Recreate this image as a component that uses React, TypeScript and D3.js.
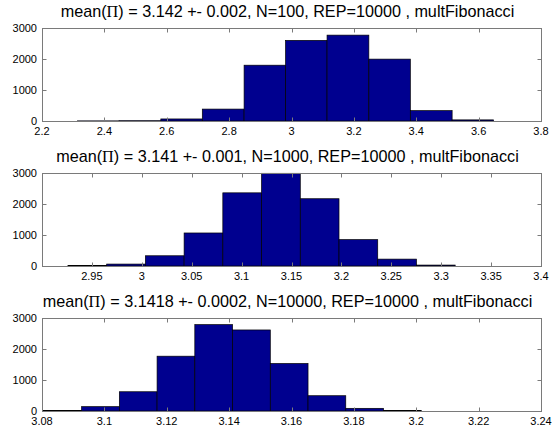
import React from 'react';
import * as d3 from 'd3';

// ---------- data ----------
const titles1 = { mean: '3.142', err: '0.002', n: '100' };
const titles2 = { mean: '3.141', err: '0.001', n: '1000' };
const titles3 = { mean: '3.1418', err: '0.0002', n: '10000' };
const rep = '10000';
const generator = 'multFibonacci';

const edges1 = [2.314, 2.447, 2.581, 2.714, 2.848, 2.981, 3.114, 3.248, 3.381, 3.515, 3.648];
const counts1 = [4, 10, 66, 384, 1800, 2600, 2770, 1996, 334, 36];
const xDomain1 = [2.2, 3.8];
const xTicks1 = [2.2, 2.4, 2.6, 2.8, 3, 3.2, 3.4, 3.6, 3.8];

const edges2 = [2.926, 2.9648, 3.0036, 3.0424, 3.0812, 3.12, 3.1588, 3.1976, 3.2364, 3.2752, 3.314];
const counts2 = [18, 62, 330, 1065, 2360, 2990, 2170, 850, 222, 30];
const xDomain2 = [2.9, 3.4];
const xTicks2 = [2.95, 3, 3.05, 3.1, 3.15, 3.2, 3.25, 3.3, 3.35, 3.4];

const edges3 = [3.0805, 3.0927, 3.1048, 3.1169, 3.129, 3.1411, 3.1532, 3.1653, 3.1774, 3.1895, 3.2016];
const counts3 = [20, 140, 621, 1768, 2786, 2614, 1532, 493, 86, 20];
const xDomain3 = [3.08, 3.24];
const xTicks3 = [3.08, 3.1, 3.12, 3.14, 3.16, 3.18, 3.2, 3.22, 3.24];

const yDomain = [0, 3000];
const yTicks = [0, 1000, 2000, 3000];

// ---------- layout ----------
const W = 560;
const H = 432;
const left = 42;
const right = 541;
const panelTops = [28, 173, 318];
const panelH = 93;
const FONT = '"Liberation Sans", Arial, Helvetica, sans-serif';
const AXIS = '#7a7a7a';
const BAR = '#00008f';
const TICK = 4;

type PanelProps = {
  top: number;
  edges: number[];
  counts: number[];
  xDomain: number[];
  xTicks: number[];
  t: { mean: string; err: string; n: string };
};

function Panel({ top, edges, counts, xDomain, xTicks, t }: PanelProps) {
  const x = d3.scaleLinear().domain(xDomain).range([left, right]);
  const y = d3.scaleLinear().domain(yDomain).range([top + panelH, top]);
  const bottom = top + panelH;
  const bins = counts.map((c, i) => ({ x0: edges[i], x1: edges[i + 1], c }));
  return (
    <g>
      <rect x={left} y={top} width={right - left} height={panelH} fill="#fff" />
      {bins.map((b, i) => (
        <rect
          key={i}
          x={x(b.x0)}
          y={y(b.c)}
          width={x(b.x1) - x(b.x0)}
          height={y(0) - y(b.c)}
          fill={BAR}
          stroke="#000"
          strokeWidth={0.7}
        />
      ))}
      {/* box */}
      <rect x={left + 0.5} y={top + 0.5} width={right - left} height={panelH} fill="none" stroke={AXIS} strokeWidth={1} />
      {/* x ticks */}
      {xTicks.map((v, i) => {
        const px = Math.round(x(v)) + 0.5;
        return (
          <g key={'x' + i}>
            <line x1={px} x2={px} y1={bottom + 0.5} y2={bottom + 0.5 - TICK} stroke={AXIS} />
            <line x1={px} x2={px} y1={top + 0.5} y2={top + 0.5 + TICK} stroke={AXIS} />
            <text x={x(v)} y={bottom + 14} textAnchor="middle" fontSize={11} fontFamily={FONT} fill="#000">
              {String(v)}
            </text>
          </g>
        );
      })}
      {/* y ticks */}
      {yTicks.map((v, i) => {
        const py = Math.round(y(v)) + 0.5;
        return (
          <g key={'y' + i}>
            <line x1={left + 0.5} x2={left + 0.5 + TICK} y1={py} y2={py} stroke={AXIS} />
            <line x1={right + 0.5} x2={right + 0.5 - TICK} y1={py} y2={py} stroke={AXIS} />
            <text x={left - 5} y={y(v) + 3.5} textAnchor="end" fontSize={11} fontFamily={FONT} fill="#000">
              {String(v)}
            </text>
          </g>
        );
      })}
      {/* title */}
      <text x={(left + right) / 2 - 4} y={top - 11} textAnchor="middle" fontSize={16.2} fontFamily={FONT} fill="#000">
        mean(
        <tspan fontFamily='"Liberation Serif", "DejaVu Serif", serif'>Π</tspan>
        {`) = ${t.mean} +- ${t.err}, N=${t.n}, REP=${rep} , ${generator}`}
      </text>
    </g>
  );
}

export default function App() {
  return (
    <svg
      width={W}
      height={H}
      viewBox={`0 0 ${W} ${H}`}
      style={{ position: 'absolute', left: 0, top: 0, background: '#fff' }}
    >
      <rect x={0} y={0} width={W} height={H} fill="#fff" />
      <Panel top={panelTops[0]} edges={edges1} counts={counts1} xDomain={xDomain1} xTicks={xTicks1} t={titles1} />
      <Panel top={panelTops[1]} edges={edges2} counts={counts2} xDomain={xDomain2} xTicks={xTicks2} t={titles2} />
      <Panel top={panelTops[2]} edges={edges3} counts={counts3} xDomain={xDomain3} xTicks={xTicks3} t={titles3} />
    </svg>
  );
}
